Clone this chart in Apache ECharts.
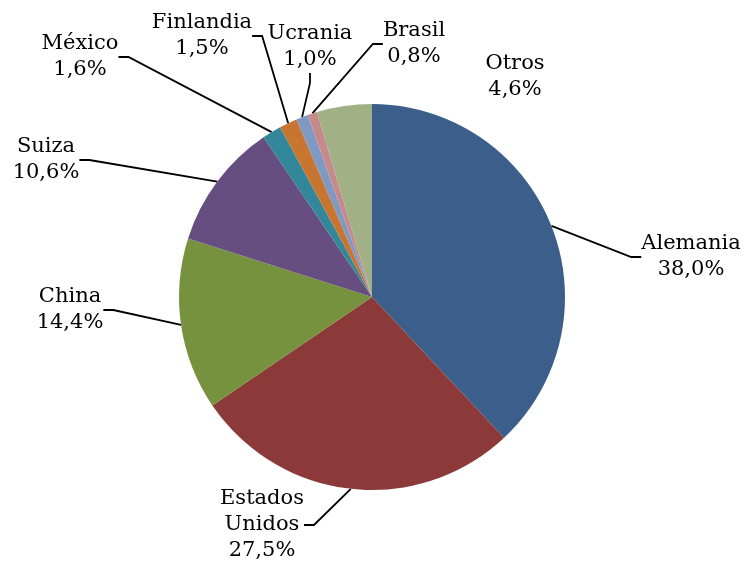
<!DOCTYPE html>
<html>
<head>
<meta charset="utf-8">
<script src="https://cdn.jsdelivr.net/npm/echarts@6/dist/echarts.min.js"></script>
<style>
  html, body { margin: 0; padding: 0; background: #fff; }
  #main { width: 747px; height: 563px; }
</style>
</head>
<body>
<div id="main"></div>
<script>
var paises = ['Alemania', 'Estados\nUnidos', 'China', 'Suiza', 'México', 'Finlandia', 'Ucrania', 'Brasil', 'Otros'];
var porcentajes = [38.0, 27.5, 14.4, 10.6, 1.6, 1.5, 1.0, 0.8, 4.6];
var colores = ['#3b5e8b', '#8b3a39', '#77923f', '#664f80', '#33879a', '#c97532', '#8099c3', '#c68a8c', '#a2b185'];

// label block centres, in px
var posEtiquetas = [[691, 257], [262, 525], [70, 310], [46, 160], [80, 57], [202, 36], [310, 47], [414, 44], [515, 77]];

var myChart = echarts.init(document.getElementById('main'));

var datos = paises.map(function (p, i) {
  var d = { name: p, value: porcentajes[i], itemStyle: { color: colores[i] } };
  if (p === 'Otros') d.labelLine = { show: false };
  return d;
});

var option = {
  animation: false,
  series: [{
    type: 'pie',
    center: [372, 297],
    radius: 193,
    startAngle: 90,
    clockwise: true,
    data: datos,
    itemStyle: { borderWidth: 0 },
    label: {
      show: true,
      fontFamily: 'DejaVu Serif',
      fontSize: 21,
      lineHeight: 26,
      color: '#000',
      align: 'center',
      formatter: function (p) {
        return p.name + '\n' + p.value.toFixed(1).replace('.', ',') + '%';
      }
    },
    labelLine: {
      show: true,
      length: 20,
      length2: 10,
      lineStyle: { color: '#000', width: 1.8 }
    },
    labelLayout: function (params) {
      var pos = posEtiquetas[params.dataIndex];
      return { x: pos[0], y: pos[1], align: 'center', verticalAlign: 'middle' };
    }
  }]
};
myChart.setOption(option);
</script>
</body>
</html>
